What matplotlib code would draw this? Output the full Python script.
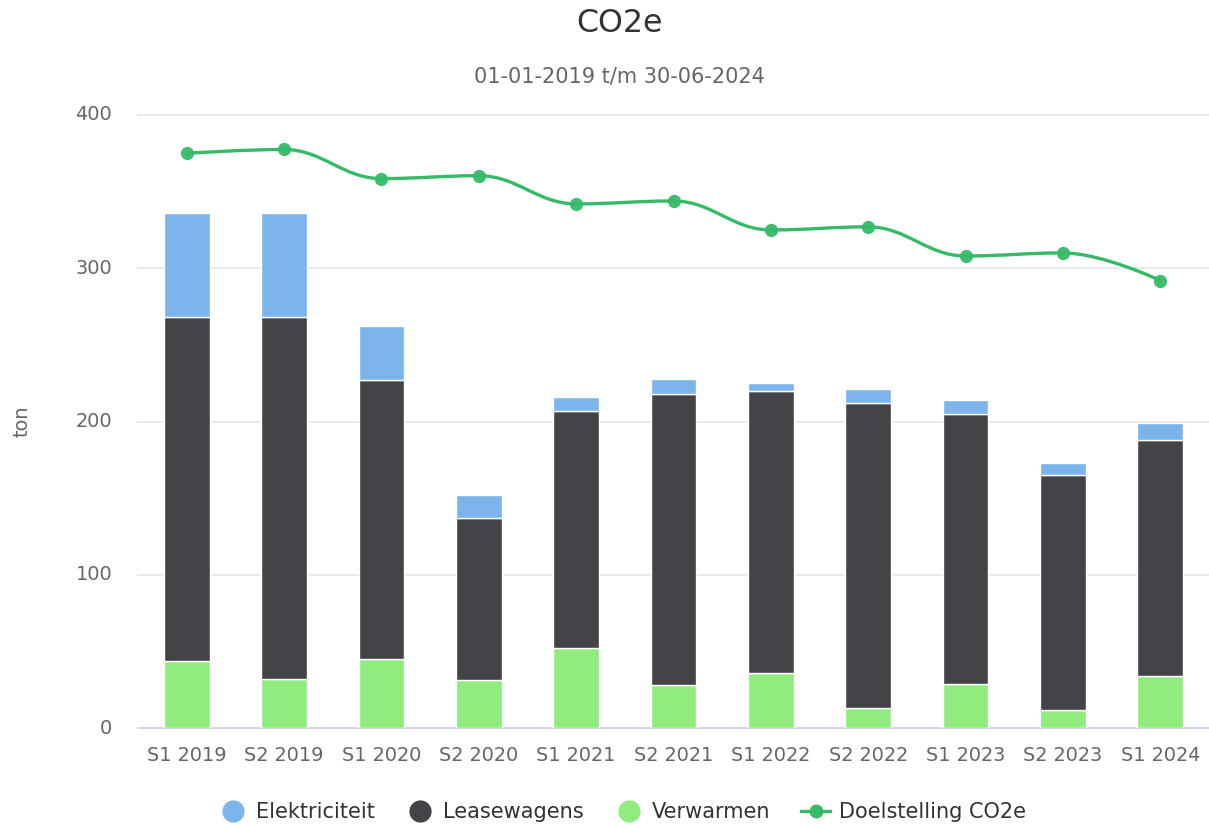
import numpy as np
import matplotlib
matplotlib.use("Agg")
import matplotlib.pyplot as plt
from matplotlib.path import Path
from matplotlib.patches import PathPatch
from matplotlib.lines import Line2D

categories = ["S1 2019", "S2 2019", "S1 2020", "S2 2020", "S1 2021", "S2 2021",
              "S1 2022", "S2 2022", "S1 2023", "S2 2023", "S1 2024"]
verwarmen = [44, 32, 45, 31, 52, 28, 36, 13, 29, 12, 34]
leasewagens = [224, 236, 182, 106, 155, 190, 184, 199, 176, 153, 154]
elektriciteit = [68, 68, 35, 15, 9, 10, 5, 9, 9, 8, 11]
doelstelling = [375, 377.5, 358.5, 360.4, 342, 343.9, 325, 327, 308, 310, 292]
yticks = [0, 100, 200, 300, 400]

C_ELEK = "#7cb5ec"
C_LEASE = "#434348"
C_VERW = "#90ed7d"
C_LINE = "#35ba68"

plt.rcParams['font.family'] = ['DejaVu Sans']

fig = plt.figure(figsize=(12.09, 8.25), dpi=100)
ax = fig.add_axes([138 / 1209, 1 - 728 / 825, (1209 - 138) / 1209, (728 - 115) / 825])

x = np.arange(len(categories))
w = 0.47
v = np.array(verwarmen, float)
l = np.array(leasewagens, float)
e = np.array(elektriciteit, float)
ax.bar(x, v, w, color=C_VERW, edgecolor="white", linewidth=1, zorder=3)
ax.bar(x, l, w, bottom=v, color=C_LEASE, edgecolor="white", linewidth=1, zorder=3)
ax.bar(x, e, w, bottom=v + l, color=C_ELEK, edgecolor="white", linewidth=1, zorder=3)

# Highcharts-style spline
def spline_path(xs, ys, smoothing=1.5):
    n = len(xs)
    denom = smoothing + 1
    lc = [None] * n
    rc = [None] * n
    for i in range(1, n - 1):
        px, py = xs[i], ys[i]
        lx, ly = xs[i - 1], ys[i - 1]
        nx, ny = xs[i + 1], ys[i + 1]
        lcx = (smoothing * px + lx) / denom
        lcy = (smoothing * py + ly) / denom
        rcx = (smoothing * px + nx) / denom
        rcy = (smoothing * py + ny) / denom
        corr = 0
        if rcx != lcx:
            corr = ((rcy - lcy) * (rcx - px)) / (rcx - lcx) + py - rcy
        lcy += corr
        rcy += corr
        if lcy > ly and lcy > py:
            lcy = max(ly, py); rcy = 2 * py - lcy
        elif lcy < ly and lcy < py:
            lcy = min(ly, py); rcy = 2 * py - lcy
        if rcy > ny and rcy > py:
            rcy = max(ny, py); lcy = 2 * py - rcy
        elif rcy < ny and rcy < py:
            rcy = min(ny, py); lcy = 2 * py - rcy
        lc[i] = (lcx, lcy)
        rc[i] = (rcx, rcy)
    verts = [(xs[0], ys[0])]
    codes = [Path.MOVETO]
    for i in range(1, n):
        c1 = rc[i - 1] if rc[i - 1] is not None else (xs[i - 1], ys[i - 1])
        c2 = lc[i] if lc[i] is not None else (xs[i], ys[i])
        verts += [c1, c2, (xs[i], ys[i])]
        codes += [Path.CURVE4] * 3
    return Path(verts, codes)

p = spline_path(list(x.astype(float)), doelstelling)
ax.add_patch(PathPatch(p, facecolor="none", edgecolor=C_LINE, linewidth=2.4, zorder=4,
                       capstyle="round", joinstyle="round"))
ax.plot(x, doelstelling, linestyle="none", marker="o", markersize=9.5,
        color=C_LINE, alpha=0.95, zorder=5, markeredgewidth=0)

ax.set_xlim(-0.5, len(categories) - 0.5)
ax.set_ylim(0, 400)
ax.set_yticks(yticks)
ax.set_xticks(x)
ax.set_xticklabels(categories)
ax.grid(axis="y", color="#e6e6e6", linewidth=1.2, zorder=0)
for gl in ax.get_ygridlines():
    gl.set_clip_on(False)
ax.set_axisbelow(True)
for s in ["top", "right", "left"]:
    ax.spines[s].set_visible(False)
ax.spines["bottom"].set_color("#ccd6eb")
ax.spines["bottom"].set_linewidth(1.2)
ax.tick_params(axis="both", length=0, labelsize=13.9, labelcolor="#666666")
ax.tick_params(axis="x", pad=13)
ax.tick_params(axis="y", pad=18.5)
for t in ax.get_yticklabels():
    t.set_verticalalignment("center")

fig.text(22 / 1209, 1 - 421 / 825, "ton", rotation=90, ha="center", va="center",
         fontsize=13.9, color="#666666")

fig.text(619 / 1209, 1 - 24 / 825, "CO2e", ha="center", va="center", fontsize=22.8, color="#333333")
fig.text(619 / 1209, 1 - 76 / 825, "01-01-2019 t/m 30-06-2024", ha="center", va="center",
         fontsize=15, color="#666666")

handles = [
    Line2D([], [], linestyle="none", marker="o", markersize=15, color=C_ELEK),
    Line2D([], [], linestyle="none", marker="o", markersize=15, color=C_LEASE),
    Line2D([], [], linestyle="none", marker="o", markersize=15, color=C_VERW),
    Line2D([], [], linestyle="-", linewidth=2.4, marker="o", markersize=9, color=C_LINE),
]
labels = ["Elektriciteit", "Leasewagens", "Verwarmen", "Doelstelling CO2e"]
fig.legend(handles, labels, loc="center", bbox_to_anchor=(622 / 1209, 1 - 812 / 825), ncol=4,
           frameon=False, fontsize=15, labelcolor="#333333", handlelength=1.35,
           handletextpad=0.43, columnspacing=1.5)

fig.savefig("out.png", dpi=100)
